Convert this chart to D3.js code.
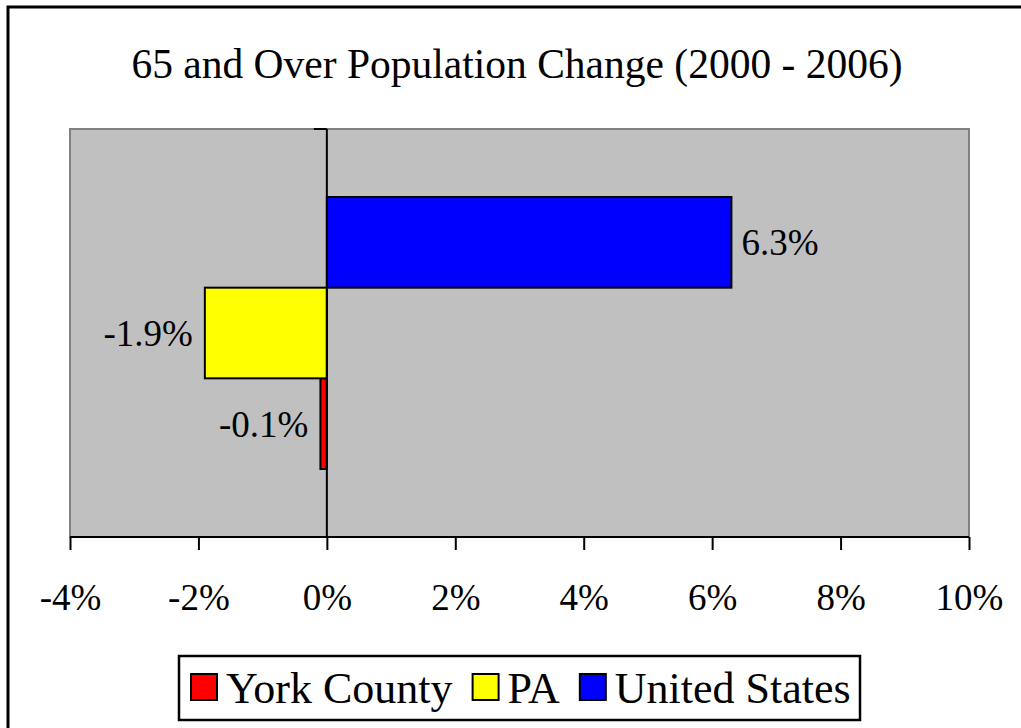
<!DOCTYPE html>
<html>
<head>
<meta charset="utf-8">
<script src="https://cdnjs.cloudflare.com/ajax/libs/d3/7.8.5/d3.min.js"></script>
<style>
  html, body { margin: 0; background: #fff; overflow: hidden; }
  svg { display: block; }
  svg text { font-family: "Liberation Serif", "Times New Roman", serif; fill: #000; }
</style>
</head>
<body>
<div id="viz"></div>
<script>
// data
var series = ["York County", "PA", "United States"];
var values = [-0.1, -1.9, 6.3];
var tickValues = [-4, -2, 0, 2, 4, 6, 8, 10];
var title = "65 and Over Population Change (2000 - 2006)";

var colorScale = d3.scaleOrdinal()
    .domain(series)
    .range(["#ff0000", "#ffff00", "#0000ff"]);

var width = 1021, height = 728;
var plot = {left: 70, right: 969, top: 129, bottom: 537};

var svg = d3.select("#viz").append("svg")
    .attr("width", width)
    .attr("height", height);

// outer chart frame: only left and top edges fall inside the picture
svg.append("path")
    .attr("d", "M8," + height + "V7H" + width)
    .style("fill", "none")
    .style("stroke", "#000")
    .style("stroke-width", 3);

// title
svg.append("text")
    .attr("x", 517)
    .attr("y", 78)
    .style("font-size", "41.5px")
    .style("text-anchor", "middle")
    .text(title);

var x = d3.scaleLinear()
    .domain([d3.min(tickValues), d3.max(tickValues)])
    .range([plot.left, plot.right]);

// excel draws the last series on top
var y = d3.scaleBand()
    .domain(series.slice().reverse())
    .range([plot.top, plot.bottom])
    .paddingInner(0)
    .paddingOuter(0.75);

// plot area
svg.append("rect")
    .attr("x", plot.left).attr("y", plot.top)
    .attr("width", plot.right - plot.left)
    .attr("height", plot.bottom - plot.top)
    .style("fill", "#c0c0c0")
    .style("stroke", "#808080")
    .style("stroke-width", 2);

var data = series.map(function(s, i){ return {name: s, value: values[i]}; });

// bars
svg.append("g").selectAll("rect").data(data).enter().append("rect")
    .attr("x", function(d){ return x(Math.min(0, d.value)); })
    .attr("y", function(d){ return y(d.name); })
    .attr("width", function(d){ return Math.abs(x(d.value) - x(0)); })
    .attr("height", y.bandwidth())
    .style("fill", function(d){ return colorScale(d.name); })
    .style("stroke", "#000")
    .style("stroke-width", 2);

// value labels (plain hyphen for the minus sign, like the original)
svg.append("g").selectAll("text").data(data).enter().append("text")
    .attr("x", function(d){ return d.value < 0 ? x(d.value) - 12 : x(d.value) + 10; })
    .attr("y", function(d){ return y(d.name) + y.bandwidth() / 2 + 13; })
    .style("font-size", "37px")
    .style("text-anchor", function(d){ return d.value < 0 ? "end" : "start"; })
    .text(function(d){ return d.value.toFixed(1) + "%"; });

// zero (category) axis
svg.append("line")
    .attr("x1", x(0)).attr("x2", x(0))
    .attr("y1", plot.top).attr("y2", plot.bottom)
    .style("stroke", "#000").style("stroke-width", 2);
svg.append("line")
    .attr("x1", x(0) - 13).attr("x2", x(0))
    .attr("y1", plot.top).attr("y2", plot.top)
    .style("stroke", "#000").style("stroke-width", 2);

// value axis
var xAxis = d3.axisBottom(x)
    .tickValues(tickValues)
    .tickSize(13)
    .tickPadding(34)
    .tickFormat(function(d){ return d + "%"; });

var axisG = svg.append("g")
    .attr("transform", "translate(0," + plot.bottom + ")")
    .call(xAxis);
axisG.select(".domain").attr("d", "M" + plot.left + ",0H" + plot.right)
    .style("stroke", "#000").style("stroke-width", 2);
axisG.selectAll(".tick line").style("stroke", "#000").style("stroke-width", 2);
axisG.selectAll(".tick text")
    .style("font-size", "37px")
    .style("font-family", "'Liberation Serif', serif")
    .attr("dy", "0.71em");

// legend
var legend = svg.append("g");
legend.append("rect")
    .attr("x", 179).attr("y", 656)
    .attr("width", 681).attr("height", 64)
    .style("fill", "#fff")
    .style("stroke", "#000")
    .style("stroke-width", 2.5);

var lx = 191;
series.forEach(function(s){
  legend.append("rect")
      .attr("x", lx).attr("y", 674)
      .attr("width", 26).attr("height", 26)
      .style("fill", colorScale(s))
      .style("stroke", "#000")
      .style("stroke-width", 2);
  var t = legend.append("text")
      .attr("x", lx + 35)
      .attr("y", 703)
      .style("font-size", "44px")
      .text(s);
  lx += 35 + t.node().getComputedTextLength() + 20;
});
</script>
</body>
</html>
